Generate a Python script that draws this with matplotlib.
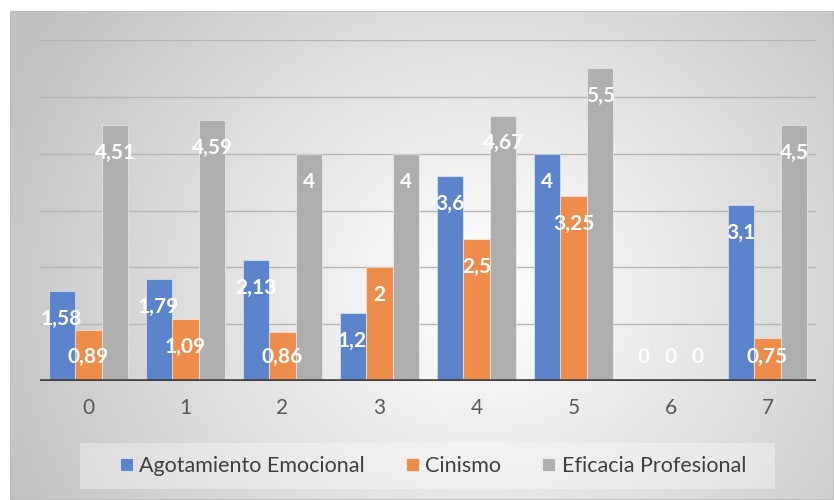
import matplotlib
matplotlib.use("Agg")
import matplotlib.pyplot as plt
import numpy as np
from matplotlib.patches import Rectangle, Patch

categories = ["0", "1", "2", "3", "4", "5", "6", "7"]
agotamiento = [1.58, 1.79, 2.13, 1.2, 3.6, 4, 0, 3.1]
cinismo = [0.89, 1.09, 0.86, 2, 2.5, 3.25, 0, 0.75]
eficacia = [4.51, 4.59, 4, 4, 4.67, 5.5, 0, 4.5]
series_names = ["Agotamiento Emocional", "Cinismo", "Eficacia Profesional"]
colors = ["#5b84cb", "#ee8c4c", "#afafaf"]

W, H, DPI = 834, 500, 100
plt.rcParams["font.family"] = ["Lato", "DejaVu Sans"]

fig = plt.figure(figsize=(W / DPI, H / DPI), dpi=DPI)
fig.patch.set_facecolor("white")

# radial gradient chart area
bg = fig.add_axes([10 / W, 0, 1 - 10 / W, 1 - 11 / H], zorder=0)
yy, xx = np.mgrid[11:H, 10:W]
r = np.hypot(xx - 480, (yy - 290) * 1.1)
g = 1 - 0.24 * np.clip(r / 520, 0, 1) ** 1.1
img = np.dstack([g, g, g])
bg.imshow(img, extent=[0, 1, 0, 1], aspect="auto", interpolation="bilinear")
bg.set_xlim(0, 1); bg.set_ylim(0, 1)
bg.set_axis_off()
bg.add_patch(Rectangle((0, 0), 1, 1, transform=bg.transAxes, fill=False,
                       edgecolor="#bdbdbd", lw=1.2))

ax = fig.add_axes([40 / W, 1 - 381 / H, 776 / W, (381 - 40) / H], zorder=1)
ax.patch.set_alpha(0)
x = np.arange(len(categories))
width = 0.27
offsets = [-0.277, 0.0, 0.277]
for vals, off, col in zip([agotamiento, cinismo, eficacia], offsets, colors):
    ax.bar(x + off, vals, width=width, color=col,
           edgecolor=(1, 1, 1, 0.45), linewidth=0.8, zorder=2)
    for xi, v in zip(x + off, vals):
        txt = ("%g" % v).replace(".", ",")
        # inside end, but never lower than a minimum height above the axis
        ly = max(v - 0.49, 0.42)
        ax.text(xi, ly, txt, ha="center", va="center", color="white",
                fontsize=15, fontweight="bold", zorder=3)

ax.set_xlim(-0.5, 7.5)
ax.set_ylim(0, 6)
for yv in range(1, 7):
    ax.axhline(yv, color="#b5b5b5", lw=1, zorder=1)
ax.axhline(0, color="#404040", lw=2.6, zorder=4)
for sp in ax.spines.values():
    sp.set_visible(False)
ax.set_yticks([])
ax.set_xticks(x)
ax.set_xticklabels(categories, fontsize=15, color="#595959")
ax.tick_params(axis="x", length=0, pad=12)

# legend band
fig.patches.append(Rectangle((80 / W, 1 - 489 / H), 695 / W, 46 / H,
                             transform=fig.transFigure, facecolor="white",
                             alpha=0.35, edgecolor="none", zorder=1))
handles = [Patch(facecolor=c, edgecolor=(1, 1, 1, 0.6), lw=0.8) for c in colors]
fig.legend(handles, series_names, loc="center", bbox_to_anchor=(433 / W, 1 - 466 / H),
           ncol=3, frameon=False, fontsize=15.5, labelcolor="#404040",
           handlelength=0.6, handleheight=0.6, handletextpad=0.3,
           columnspacing=1.9)

fig.savefig("out.png", dpi=DPI)
